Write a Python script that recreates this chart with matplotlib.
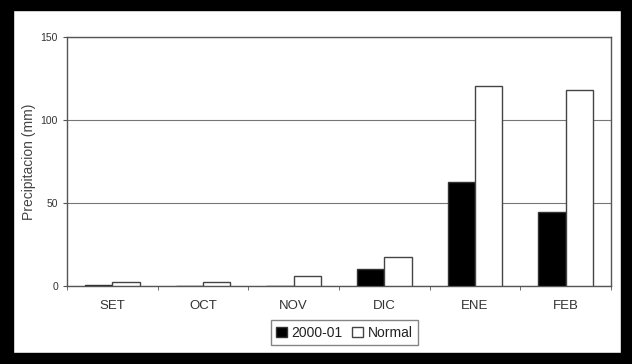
import numpy as np
import matplotlib.pyplot as plt
from matplotlib.patches import Rectangle

plt.rcParams['font.family'] = ['Liberation Sans', 'DejaVu Sans']

meses = ['SET', 'OCT', 'NOV', 'DIC', 'ENE', 'FEB']
pp_2000 = [0.5, 0, 0, 10.5, 62.5, 44.5]   # precipitacion 2000-01 (mm)
pp_normal = [2.5, 2.5, 6, 17.5, 120.5, 118]  # normal (mm)

fig = plt.figure(figsize=(6.32, 3.64), dpi=100)
fig.patch.set_facecolor('white')

# marco negro alrededor
W, H = 632, 364
for (x0, y0, w, h) in [(0, 0, 13, H), (621, 0, 11, H), (0, 0, W, 10), (0, 353, W, 11)]:
    fig.patches.append(Rectangle((x0 / W, 1 - (y0 + h) / H), w / W, h / H,
                                 transform=fig.transFigure, color='black', zorder=10))

ax = fig.add_axes([67 / W, 1 - 286 / H, (611 - 67) / W, (286 - 37) / H])

x = np.arange(len(meses))
w = 0.3
ax.bar(x - w / 2, pp_2000, w, color='black', edgecolor='#333333', linewidth=1, label='2000-01', zorder=3)
ax.bar(x + w / 2, pp_normal, w, color='white', edgecolor='#444444', linewidth=1, label='Normal', zorder=3)

ax.set_xlim(-0.5, len(meses) - 0.5)
ax.set_ylim(0, 150)
ax.set_yticks([0, 50, 100, 150])
ax.yaxis.grid(True, color='#777777', linewidth=0.8)
ax.set_axisbelow(True)

ax.set_xticks(x)
ax.set_xticklabels(meses)
ax.set_xticks(np.arange(-0.5, len(meses)), minor=True)
ax.tick_params(axis='x', which='major', length=0, pad=10, labelsize=9.5, labelcolor='#333333')
ax.tick_params(axis='x', which='minor', length=3, color='#555555')
ax.tick_params(axis='y', length=3, labelsize=7.5, labelcolor='#333333', color='#555555')

for s in ax.spines.values():
    s.set_color('#555555')
    s.set_linewidth(1)

ax.set_ylabel('Precipitacion (mm)', fontsize=10, color='#444444')
ax.yaxis.set_label_coords(-0.057, 0.5)

ax.legend(loc='upper center', bbox_to_anchor=(0.51, -0.11), ncol=2, frameon=True,
          fancybox=False, edgecolor='#666666', fontsize=10, handlelength=0.8,
          handleheight=0.8, handletextpad=0.3, columnspacing=0.7, borderpad=0.4,
          labelcolor='#222222')

fig.savefig('out.png', dpi=100, facecolor='white')
